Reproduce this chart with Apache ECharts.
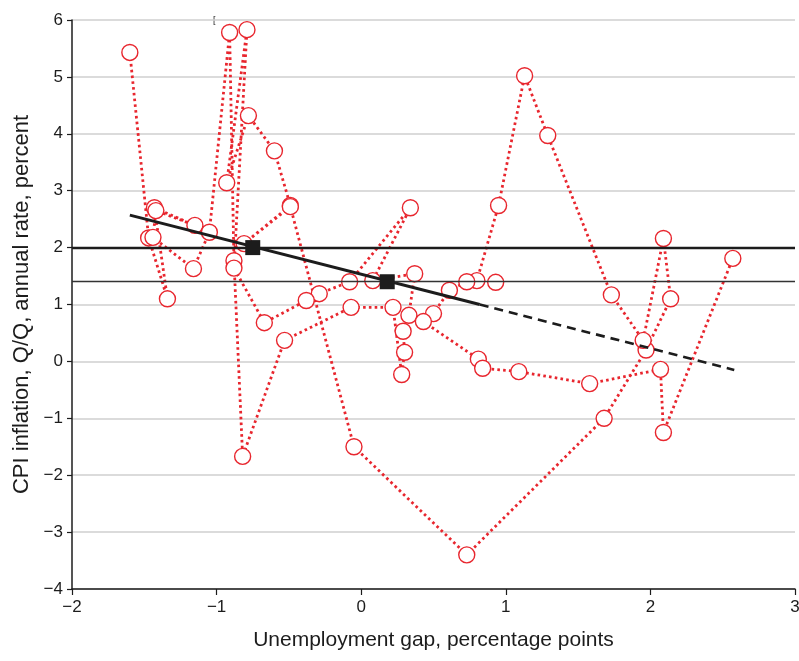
<!DOCTYPE html>
<html>
<head>
<meta charset="utf-8">
<script src="https://cdn.jsdelivr.net/npm/echarts@6/dist/echarts.min.js"></script>
<style>
  html, body { margin: 0; padding: 0; background: #fff; }
  #chart { width: 799px; height: 661px; }
</style>
</head>
<body>
<div id="chart"></div>
<script>
// Quarterly path: unemployment gap (pp) vs CPI inflation (Q/Q annual rate, %)
const gapPath = [
  -1.60, -1.47, -1.34, -1.43, -1.15, -1.42, -1.44, -1.16, -1.05, -0.91,
  -0.88, -0.82, -0.53, -0.07, 0.22, 0.28, 0.30, 0.29, 0.33, 0.37,
  0.08, 0.34, -0.08, -0.29, -0.38, -0.67, -0.88, -0.79, -0.93, -0.78,
  -0.60, -0.49, -0.81, -0.49, -0.05, 0.73, 1.68, 1.97, 2.14, 2.09,
  1.95, 1.73, 1.29, 1.13, 0.95, 0.80, 0.73, 0.61, 0.50, 0.43,
  0.81, 0.84, 1.09, 1.58, 2.07, 2.09, 2.57
];
const cpiPath = [
  5.43, 2.17, 1.10, 2.70, 2.39, 2.65, 2.18, 1.63, 2.27, 5.78,
  1.77, -1.67, 0.37, 0.95, 0.95, -0.23, 0.16, 0.53, 0.81, 1.54,
  1.42, 2.70, 1.40, 1.19, 1.07, 0.68, 1.64, 5.83, 3.14, 4.32,
  3.70, 2.74, 2.07, 2.72, -1.50, -3.40, -1.00, 0.20, 1.10, 2.16,
  0.37, 1.17, 3.97, 5.02, 2.74, 1.42, 1.40, 1.25, 0.84, 0.70,
  0.04, -0.12, -0.18, -0.39, -0.14, -1.25, 1.81
];
// Latest quarter, shown on its own
const latestGap = [0.93];
const latestCpi = [1.39];

// Fitted relation: solid over the sample, dashed beyond it
const fitSolidGap = [-1.60, 0.82];
const fitSolidCpi = [2.57, 1.00];
const fitDashGap = [0.82, 2.58];
const fitDashCpi = [1.00, -0.15];

// Period averages
const avgGap = [-0.75, 0.18];
const avgCpi = [2.0, 1.4];

const xTicks = { min: -2, max: 3, step: 1 };
const yTicks = { min: -4, max: 6, step: 1 };

const RED = '#e8262e';
const INK = '#1c1c1c';
const FONT = 'Liberation Sans, Arial, sans-serif';

const zip = (a, b) => a.map((v, i) => [v, b[i]]);
const fmt = v => (v < 0 ? '\u2212' + Math.abs(v) : String(v));

const chart = echarts.init(document.getElementById('chart'));
chart.setOption({
  animation: false,
  backgroundColor: '#fff',
  grid: { left: 72, right: 4, top: 20, bottom: 72, containLabel: false, outerBoundsMode: 'none' },
  graphic: [
    { type: 'text', left: 213, top: 16, silent: true,
      style: { text: '[', fontFamily: FONT, fontSize: 9, fill: INK } }
  ],
  xAxis: {
    type: 'value', min: xTicks.min, max: xTicks.max, interval: xTicks.step,
    name: 'Unemployment gap, percentage points',
    nameLocation: 'middle', nameGap: 41,
    nameTextStyle: { fontFamily: FONT, fontSize: 21, color: INK },
    axisLine: { show: true, onZero: false, lineStyle: { color: INK, width: 1.5 } },
    axisTick: { show: true, length: 6, lineStyle: { color: INK, width: 1.2 } },
    axisLabel: { formatter: fmt, fontFamily: FONT, fontSize: 17, color: INK, margin: 10 },
    splitLine: { show: false }
  },
  yAxis: {
    type: 'value', min: yTicks.min, max: yTicks.max, interval: yTicks.step,
    name: 'CPI inflation, Q/Q, annual rate, percent',
    nameLocation: 'middle', nameGap: 39, nameRotate: 90,
    nameTextStyle: { fontFamily: FONT, fontSize: 22, color: INK },
    axisLine: { show: true, onZero: false, lineStyle: { color: INK, width: 1.5 } },
    axisTick: { show: true, length: 5, lineStyle: { color: INK, width: 1.2 } },
    axisLabel: { formatter: fmt, fontFamily: FONT, fontSize: 17, color: INK, margin: 9 },
    splitLine: { show: true, lineStyle: { color: '#cfcfcf', width: 1.5 } }
  },
  series: [
    {
      type: 'line', data: zip(gapPath, cpiPath), z: 2,
      symbol: 'circle', symbolSize: 16,
      itemStyle: { color: '#fff', borderColor: RED, borderWidth: 1.4, opacity: 1 },
      lineStyle: { color: RED, width: 2.8, type: [2.6, 3.2] }
    },
    {
      type: 'scatter', data: zip(latestGap, latestCpi), z: 2,
      symbol: 'circle', symbolSize: 16,
      itemStyle: { color: '#fff', borderColor: RED, borderWidth: 1.4, opacity: 1 }
    },
    {
      type: 'line', data: zip(fitSolidGap, fitSolidCpi), z: 4, symbol: 'none',
      lineStyle: { color: INK, width: 3 }
    },
    {
      type: 'line', data: zip(fitDashGap, fitDashCpi), z: 4, symbol: 'none',
      lineStyle: { color: INK, width: 2.6, type: [9, 6] }
    },
    {
      type: 'scatter', data: zip(avgGap, avgCpi), z: 5,
      symbol: 'rect', symbolSize: 15,
      itemStyle: { color: INK, opacity: 1 },
      markLine: {
        silent: true, symbol: 'none', label: { show: false },
        data: [
          { yAxis: avgCpi[0], lineStyle: { color: INK, width: 2.4, type: 'solid' } },
          { yAxis: avgCpi[1], lineStyle: { color: '#333', width: 1.4, type: 'solid' } }
        ]
      }
    }
  ]
});
</script>
</body>
</html>
